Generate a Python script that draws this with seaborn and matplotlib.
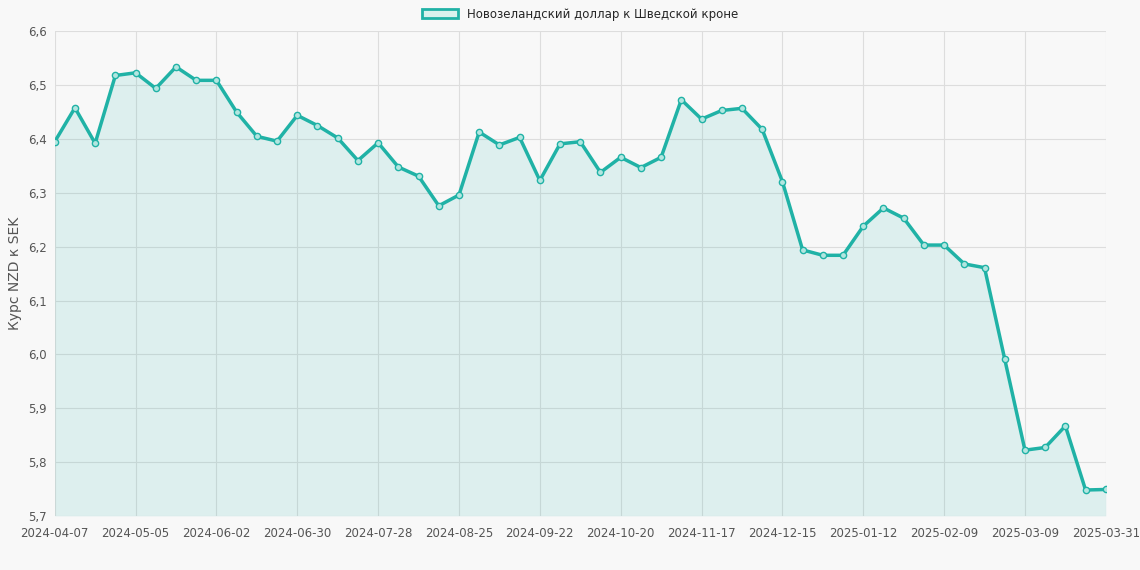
import pandas as pd
import matplotlib
matplotlib.use("Agg")
import matplotlib.pyplot as plt
import seaborn as sns
from matplotlib.patches import Patch
from datetime import date, timedelta

# ── данные: еженедельный курс NZD/SEK ──
start = date(2024, 4, 7)
dates = [(start + timedelta(weeks=i)).isoformat() for i in range(52)] + ["2025-03-31"]
rates = [6.395, 6.458, 6.392, 6.518, 6.523, 6.494, 6.534, 6.509, 6.509, 6.450,
         6.405, 6.396, 6.444, 6.425, 6.402, 6.360, 6.393, 6.348, 6.331, 6.276,
         6.296, 6.413, 6.389, 6.403, 6.323, 6.391, 6.395, 6.338, 6.366, 6.347,
         6.366, 6.473, 6.437, 6.453, 6.457, 6.418, 6.321, 6.194, 6.184, 6.184,
         6.238, 6.272, 6.253, 6.203, 6.203, 6.168, 6.161, 5.991, 5.822, 5.827,
         5.867, 5.748, 5.749]
label = "Новозеландский доллар к Шведской кроне"

df = pd.DataFrame({"x": range(len(dates)), "rate": rates})
color = "#20b2a6"
bg = "#f8f8f8"

sns.set_style("whitegrid")
plt.rcParams["font.family"] = ["DejaVu Sans"]
fig, ax = plt.subplots(figsize=(11.4, 5.7), dpi=100)
fig.patch.set_facecolor(bg)
ax.set_facecolor(bg)

ax.fill_between(df.x, df.rate, 5.7, color=color, alpha=0.12, lw=0)
sns.lineplot(data=df, x="x", y="rate", ax=ax, color=color, lw=2.5,
             marker="o", markersize=4.5, markerfacecolor=(0.7, 0.9, 0.88),
             markeredgecolor=color, markeredgewidth=1)

ticks = list(range(0, 52, 4)) + [52]
ax.set_xticks(ticks)
ax.set_xticklabels([dates[i] for i in ticks], fontsize=8.5, color="#555")
ax.set_xlim(0, 52)
ax.set_ylim(5.7, 6.6)
yt = [5.7 + 0.1 * i for i in range(10)]
ax.set_yticks(yt)
ax.set_yticklabels([f"{v:.1f}".replace(".", ",") for v in yt], fontsize=8.5, color="#555")
ax.set_xlabel("")
ax.set_ylabel("Курс NZD к SEK", fontsize=10, color="#555")
ax.grid(color="#dddddd", lw=0.8)
for s in ax.spines.values():
    s.set_visible(False)
ax.tick_params(axis="x", length=0, pad=8)
ax.tick_params(axis="y", length=0, pad=6)

ax.legend(handles=[Patch(facecolor=(0.85, 0.95, 0.93), edgecolor=color, lw=2, label=label)],
          loc="lower center", bbox_to_anchor=(0.5, 1.0), frameon=False, fontsize=8.5,
          handlelength=3)

plt.subplots_adjust(left=0.048, right=0.97, top=0.945, bottom=0.095)
fig.savefig("out.png", facecolor=bg)
